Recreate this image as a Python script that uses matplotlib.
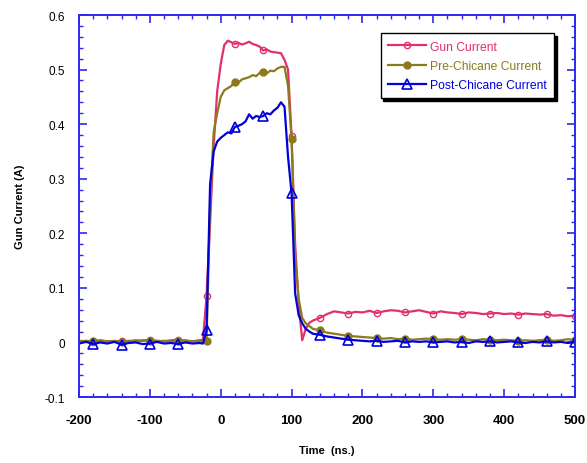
import numpy as np
import matplotlib.pyplot as plt
from matplotlib.ticker import MultipleLocator

plt.rcParams['font.family'] = ['Liberation Sans', 'DejaVu Sans']
plt.rcParams['axes.unicode_minus'] = False

# time axis (ns), coarse on the baselines, finer around the pulse edges
time = [-200, -190, -180, -170, -160, -150, -140, -130, -120, -110, -100, -90,
        -80, -70, -60, -50, -40, -30,
        -25, -20, -15, -10, -5, 0, 5, 10, 15, 20, 25, 30, 35, 40, 45, 50, 55,
        60, 65, 70, 75, 80, 85, 90, 95, 100, 105, 110, 115, 120, 125, 130,
        140, 150, 160, 170, 180, 190, 200, 210, 220, 230, 240, 250, 260, 270,
        280, 290, 300, 310, 320, 330, 340, 350, 360, 370, 380, 390, 400, 410,
        420, 430, 440, 450, 460, 470, 480, 490, 500]

gun = [0.002, 0.003, 0.001, 0.003, 0.002, 0.001, 0.003, 0.002, 0.004, 0.003,
       0.005, 0.003, 0.002, 0.004, 0.005, 0.003, 0.002, 0.004,
       0.005, 0.085, 0.22, 0.36, 0.46, 0.51, 0.545, 0.553, 0.55, 0.547, 0.549,
       0.546, 0.548, 0.551, 0.547, 0.545, 0.542, 0.535, 0.537, 0.533, 0.532,
       0.531, 0.53, 0.518, 0.50, 0.378, 0.18, 0.07, 0.004, 0.025, 0.036, 0.04,
       0.045, 0.052, 0.057, 0.055, 0.053, 0.056, 0.055, 0.058, 0.054, 0.057,
       0.059, 0.058, 0.055, 0.057, 0.059, 0.056, 0.053, 0.057, 0.055, 0.054,
       0.052, 0.055, 0.054, 0.052, 0.053, 0.054, 0.052, 0.053, 0.051, 0.053,
       0.052, 0.051, 0.052, 0.049, 0.050, 0.048, 0.049]

pre = [0.003, 0.002, 0.003, 0.004, 0.002, 0.003, 0.001, 0.003, 0.002, 0.004,
       0.003, 0.002, 0.003, 0.002, 0.003, 0.004, 0.002, 0.003,
       0.003, 0.002, 0.25, 0.385, 0.42, 0.45, 0.462, 0.466, 0.47, 0.478, 0.476,
       0.482, 0.484, 0.486, 0.49, 0.488, 0.494, 0.496, 0.493, 0.498, 0.497,
       0.502, 0.505, 0.505, 0.47, 0.372, 0.16, 0.08, 0.045, 0.035, 0.03, 0.025,
       0.022, 0.018, 0.016, 0.014, 0.012, 0.011, 0.01, 0.009, 0.008, 0.007,
       0.008, 0.006, 0.007, 0.005, 0.006, 0.007, 0.006, 0.005, 0.006, 0.005,
       0.006, 0.005, 0.004, 0.006, 0.005, 0.004, 0.005, 0.004, 0.003, 0.004,
       0.003, 0.004, 0.005, 0.003, 0.004, 0.006, 0.004]

post = [-0.002, 0.001, -0.003, 0.0, -0.002, 0.001, -0.004, -0.001, 0.0, -0.003,
        -0.002, 0.001, -0.002, -0.001, -0.003, 0.0, -0.002, -0.001,
        -0.002, 0.022, 0.29, 0.35, 0.368, 0.375, 0.38, 0.385, 0.383, 0.395,
        0.397, 0.40, 0.405, 0.418, 0.41, 0.415, 0.413, 0.415, 0.42, 0.418,
        0.425, 0.43, 0.44, 0.432, 0.34, 0.273, 0.09, 0.05, 0.035, 0.025, 0.02,
        0.016, 0.014, 0.011, 0.009, 0.007, 0.005, 0.004, 0.003, 0.002, 0.003,
        0.001, 0.002, 0.003, 0.0, 0.002, 0.001, 0.002, 0.0, 0.001, 0.002, 0.0,
        0.001, -0.001, 0.002, 0.001, 0.002, 0.0, 0.001, 0.002, 0.0, -0.001,
        0.001, 0.0, 0.002, 0.0, 0.001, -0.001, 0.001]

t = np.array(time)
marks = list(np.where((t + 180) % 40 == 0)[0])

fig = plt.figure(figsize=(5.87, 4.64), dpi=100)
ax = fig.add_axes([0.1346, 0.1422, 0.845, 0.8233])

red = '#E2306C'
olive = '#8C7A1C'
blue = '#0000DD'

ax.plot(t, gun, color=red, lw=1.6, marker='o', markevery=marks, ms=4.5,
        mfc='none', mec=red, mew=1.0, label='Gun Current')
ax.plot(t, pre, color=olive, lw=1.6, marker='o', markevery=marks, ms=5,
        mfc=olive, mec=olive, label='Pre-Chicane Current')
ax.plot(t, post, color=blue, lw=1.6, marker='^', markevery=marks, ms=7,
        mfc='none', mec=blue, mew=1.2, label='Post-Chicane Current')

ax.set_xlim(-200, 500)
ax.set_ylim(-0.1, 0.6)
ax.xaxis.set_major_locator(MultipleLocator(100))
ax.xaxis.set_minor_locator(MultipleLocator(20))
ax.yaxis.set_minor_locator(MultipleLocator(0.02))
ax.set_yticks(np.arange(-0.1, 0.61, 0.1))
ax.set_yticklabels(['-0.1', '0', '0.1', '0.2', '0.3', '0.4', '0.5', '0.6'])

frame = '#2A2AF0'
for s in ax.spines.values():
    s.set_color(frame)
    s.set_linewidth(1.4)
ax.tick_params(which='both', direction='in', top=True, right=True, color=frame)
ax.tick_params(which='major', length=6, width=1.2)
ax.tick_params(which='minor', length=3, width=1.0)
ax.tick_params(axis='y', labelsize=8.5, pad=10)
ax.tick_params(axis='x', labelsize=9.5, pad=12)
for lab in ax.get_xticklabels():
    lab.set_fontweight('bold')

ax.set_xlabel('Time  (ns.)', fontsize=8, fontweight='bold', labelpad=14)
ax.set_ylabel('Gun Current (A)', fontsize=8, fontweight='bold', labelpad=14)

leg = ax.legend(loc='upper right', bbox_to_anchor=(0.97, 0.968), fontsize=8.7,
                labelcolor='linecolor', fancybox=False, framealpha=1,
                edgecolor='black', handlelength=3.2, borderpad=0.6,
                labelspacing=0.6, handletextpad=0.3,
                shadow={'color': 'black', 'alpha': 1})
leg.get_frame().set_linewidth(1.0)

fig.savefig('out.png', dpi=100)
